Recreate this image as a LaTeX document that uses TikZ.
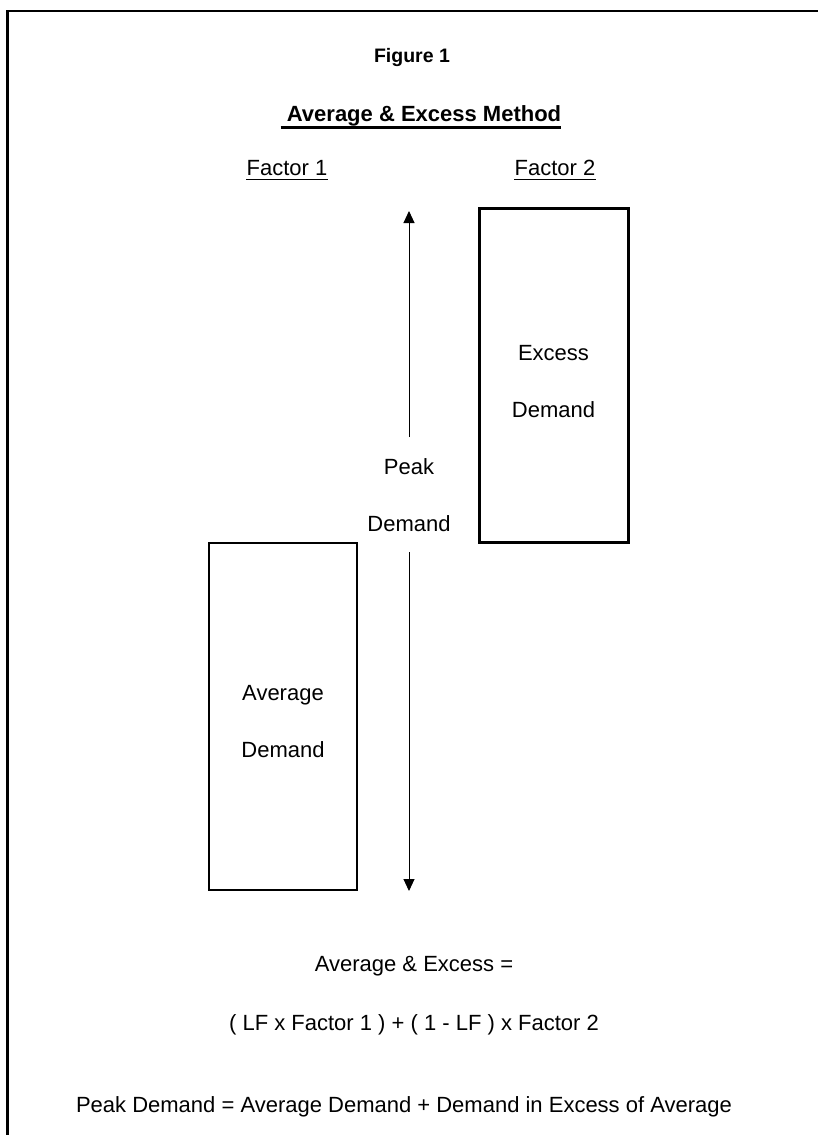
\documentclass[tikz,border=0pt]{standalone}
\usepackage{fontspec}
\setmainfont{Liberation Sans}
\usetikzlibrary{arrows.meta}
\begin{document}
\begin{tikzpicture}[x=1pt,y=-1pt,
  txt/.style={inner sep=0pt,anchor=base,font=\fontsize{22}{26}\selectfont},
  btxt/.style={txt,font=\fontsize{22}{26}\selectfont\bfseries},
  box/.style={draw,line width=2.2pt,inner sep=0pt},
  ul/.style={line width=1.6pt},
  frame/.style={line width=2.5pt},
  arr/.style={line width=1pt,-{Triangle[width=11pt,length=12pt]}}]
\useasboundingbox (0,0) rectangle (818,1135);
% frame (cropped)
\coordinate (fbl) at (7.5,1135);
\coordinate (ftl) at (7.5,11);
\coordinate (ftr) at (818,11);
\draw[frame] (fbl) -- (ftl) -- (ftr);
% titles
\node[btxt,font=\fontsize{19.5}{24}\selectfont\bfseries] (fig) at (412,62) {Figure 1};
\node[btxt] (title) at (421,121) {\ Average \& Excess Method};
\draw[line width=2.5pt] ([yshift=-6.5pt]title.base west) -- ([yshift=-6.5pt]title.base east);
\node[txt] (f1) at (287,175) {Factor 1};
\node[txt] (f2) at (555,175) {Factor 2};
\draw[ul] ([yshift=-4.5pt]f1.base west) -- ([yshift=-4.5pt]f1.base east);
\draw[ul] ([yshift=-4.5pt]f2.base west) -- ([yshift=-4.5pt]f2.base east);
% boxes
\node[box,line width=3pt,minimum width=149pt,minimum height=334pt] (exbox) at (553.5,375) {};
\node[box,minimum width=148pt,minimum height=347pt] (avbox) at (283,716.5) {};
\node[txt] (ex1) at (553.5,360) {Excess};
\node[txt] (ex2) at (553.5,417) {Demand};
\node[txt] (av1) at (283,700) {Average};
\node[txt] (av2) at (283,757) {Demand};
% peak demand arrow
\node[txt] (pk1) at (409,474) {Peak};
\node[txt] (pk2) at (409,531) {Demand};
\coordinate (pkup) at (409,437);
\coordinate (pktop) at (409,211);
\coordinate (pkdn) at (409,552);
\coordinate (pkbot) at (409,891);
\draw[arr] (pkup) -- (pktop);
\draw[arr] (pkdn) -- (pkbot);
% formulas
\node[txt] (fa) at (414,971) {Average \& Excess =};
\node[txt] (fb) at (414,1030) {( LF x Factor 1 ) + ( 1 - LF ) x Factor 2};
\node[txt] (fc) at (404,1112) {Peak Demand = Average Demand + Demand in Excess of Average};
\end{tikzpicture}
\end{document}
